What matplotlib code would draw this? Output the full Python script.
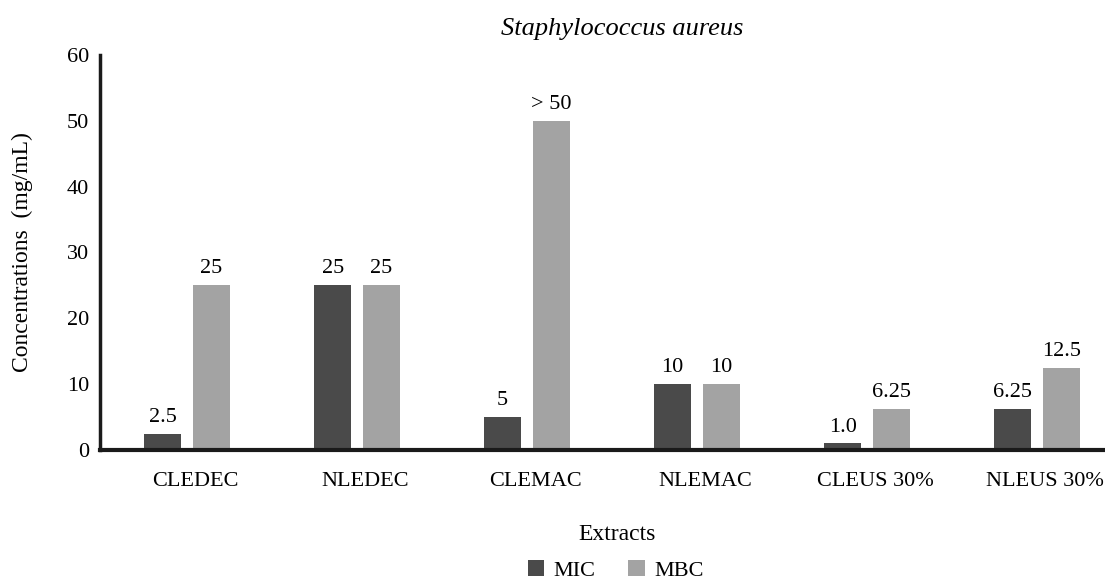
import matplotlib.pyplot as plt
import matplotlib.transforms as mtransforms
import numpy as np

extracts = ['CLEDEC', 'NLEDEC', 'CLEMAC', 'NLEMAC', 'CLEUS 30%', 'NLEUS 30%']
mic = [2.5, 25, 5, 10, 1.0, 6.25]
mbc = [25, 25, 50, 10, 6.25, 12.5]
mic_labels = ['2.5', '25', '5', '10', '1.0', '6.25']
mbc_labels = ['25', '25', '> 50', '10', '6.25', '12.5']

plt.rcParams['font.family'] = ['Liberation Serif', 'DejaVu Serif']

def main():
    fig = plt.figure(figsize=(11.05, 5.83), dpi=100)
    ax = fig.add_axes([0.0905, 0.228, 0.9095, 0.678])
    x = np.arange(len(extracts))
    w = 0.218
    off = 0.034
    b1 = ax.bar(x - w/2 - off, mic, w, color='#4a4a4a', label='MIC')
    b2 = ax.bar(x + w/2 + off, mbc, w, color='#a3a3a3', label='MBC')
    for bars, labs in [(b1, mic_labels), (b2, mbc_labels)]:
        for r, t in zip(bars, labs):
            ax.annotate(t, (r.get_x() + r.get_width()/2, r.get_height()),
                        xytext=(0, 5), textcoords='offset points',
                        ha='center', va='bottom', fontsize=16)
    ax.set_xlim(-0.512, 5.4)
    ax.set_ylim(0, 60)
    ax.set_yticks(np.arange(0, 61, 10))
    ax.set_xticks(x)
    ax.set_xticklabels(extracts)
    ax.tick_params(length=0, labelsize=16)
    ax.tick_params(axis='x', pad=16)
    ax.tick_params(axis='y', pad=8)
    shift = mtransforms.ScaledTranslation(0.08, 0, fig.dpi_scale_trans)
    for lab in ax.get_xticklabels():
        lab.set_transform(lab.get_transform() + shift)
    for s in ['top', 'right']:
        ax.spines[s].set_visible(False)
    ax.spines['left'].set_linewidth(2.5)
    ax.spines['bottom'].set_linewidth(3)
    ax.spines['left'].set_color('#1a1a1a')
    ax.spines['bottom'].set_color('#1a1a1a')
    ax.set_ylabel('Concentrations  (mg/mL)', fontsize=17, labelpad=24)
    fig.text(0.558, 0.084, 'Extracts', ha='center', va='center', fontsize=17)
    fig.text(0.563, 0.950, 'Staphylococcus aureus', ha='center', va='center',
             fontsize=19, style='italic')
    fig.legend(handles=[b1, b2], loc='center', bbox_to_anchor=(0.557, 0.022),
               ncol=2, frameon=False, fontsize=16, handlelength=0.75,
               handleheight=0.75, columnspacing=1.5, handletextpad=0.4,
               borderpad=0.1)
    fig.savefig('out.png', dpi=100)

if __name__ == '__main__':
    main()
